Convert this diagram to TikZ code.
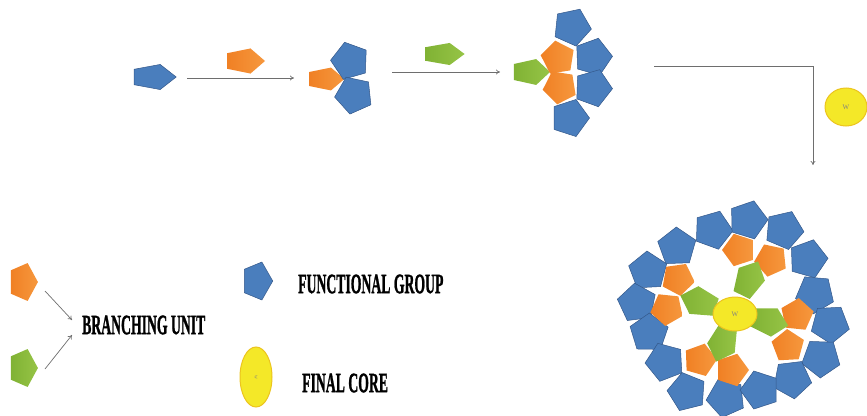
\documentclass[tikz,border=0pt]{standalone}
\usepackage{fontspec}
\usepackage{graphicx}
\setmainfont{Liberation Serif}
\newfontfamily\legendfont[BoldFeatures={FakeBold=1.6}]{Liberation Serif}
\usetikzlibrary{shapes.geometric,arrows.meta}

\definecolor{fgblue}{RGB}{74,126,189}
\definecolor{fgblueedge}{RGB}{52,88,138}
\definecolor{buorange}{RGB}{240,128,36}
\definecolor{buorangelt}{RGB}{246,152,62}
\definecolor{bugreen}{RGB}{128,178,52}
\definecolor{bugreenlt}{RGB}{150,196,70}
\definecolor{coreyellow}{RGB}{244,232,40}
\definecolor{coreedge}{RGB}{236,196,30}
\definecolor{arrowgrey}{RGB}{110,110,110}

\tikzset{
  pent/.style={regular polygon, regular polygon sides=5, inner sep=0pt, minimum size=#1},
  pent/.default=40pt,
  fgroup/.style={fill=fgblue, draw=fgblueedge, line width=0.5pt},
  bunit/.style={left color=buorange, right color=buorangelt, draw=none},
  gunit/.style={left color=bugreen, right color=bugreenlt, draw=none},
  core/.style={ellipse, fill=coreyellow, draw=coreedge, line width=1pt, inner sep=0pt},
  coretext/.style={text=gray, font=\fontsize{7}{7}\selectfont},
  flow/.style={draw=arrowgrey, line width=0.7pt, -{To[length=4pt,width=5pt]}},
  legendtext/.style={font=\legendfont\bfseries\fontsize{28}{28}\selectfont, inner sep=0pt}
}

% #1 name, #2 x, #3 y, #4 pointing angle, #5 style, #6 size
\newcommand\pentat[6]{\node[pent=#6, #5, rotate=#4-90] (#1) at (#2,#3) {};}
% same, stretched along the pointing axis
\newcommand\longpentat[6]{\node[pent=#6, #5, rotate=#4-90, xscale=0.85, yscale=1.15] (#1) at (#2,#3) {};}

\begin{document}
\begin{tikzpicture}[x=1pt, y=-1pt]
\useasboundingbox (0,0) rectangle (867,415);

% ---- reaction scheme, top row ----
\node[pent=40pt, fgroup, xscale=1.16, yscale=0.66, rotate=-90] (fg0) at (153,77) {};
\node[pent=40pt, bunit, xscale=1.05, yscale=0.66, rotate=-90] (bu0) at (244,61) {};
\coordinate (a1s) at (187,78);
\coordinate (a1e) at (294,78);
\draw[flow] (a1s) -- (a1e);

% first generation
\node[pent=40pt, bunit, xscale=0.97, yscale=0.6, rotate=-90] (g1o) at (325,79) {};
\pentat{g1b1}{350}{61}{34}{fgroup}{39pt}
\pentat{g1b2}{354}{95}{-30}{fgroup}{39pt}

\node[pent=40pt, gunit, xscale=1.08, yscale=0.58, rotate=-90] (gu0) at (443,54) {};
\coordinate (a2s) at (392,72);
\coordinate (a2e) at (500,72);
\draw[flow] (a2s) -- (a2e);

% second generation
\node[pent=40pt, gunit, xscale=1.0, yscale=0.68, rotate=-90] (g2g) at (530,72) {};
\pentat{g2o1}{558}{58}{27}{bunit}{35pt}
\pentat{g2o2}{560}{87}{-27}{bunit}{35pt}
\pentat{g2b1}{572}{27}{66}{fgroup}{39pt}
\pentat{g2b2}{593}{57}{2}{fgroup}{39pt}
\pentat{g2b3}{593}{88}{-2}{fgroup}{39pt}
\pentat{g2b4}{570}{118}{-72}{fgroup}{39pt}

% elbow arrow towards the dendrimer
\coordinate (a3s) at (654,66);
\coordinate (a3e) at (813,165);
\draw[flow] (a3s) -| (a3e);
\node[core, minimum width=42pt, minimum height=38pt] (core0) at (846,107) {};
\node[coretext] at (core0) {W};

% ---- dendrimer ----
% outer functional groups
\pentat{b1}{713}{230}{142}{fgroup}{40pt}
\pentat{b2}{748}{220}{73}{fgroup}{40pt}
\pentat{b3}{784}{230}{67}{fgroup}{40pt}
\pentat{b4}{808}{259}{2}{fgroup}{40pt}
\pentat{b5}{677}{247}{92}{fgroup}{40pt}
\pentat{b6}{648}{271}{165}{fgroup}{40pt}
\pentat{b7}{637}{303}{169}{fgroup}{40pt}
\pentat{b8}{649}{333}{233}{fgroup}{40pt}
\pentat{b9}{815}{294}{49}{fgroup}{40pt}
\pentat{b10}{830}{324}{-15}{fgroup}{40pt}
\pentat{b11}{821}{358}{-20}{fgroup}{40pt}
\pentat{b12}{792}{379}{-83}{fgroup}{40pt}
\pentat{b13}{665}{362}{183}{fgroup}{40pt}
\pentat{b14}{687}{392}{248}{fgroup}{40pt}
\pentat{b15}{726}{398}{258}{fgroup}{40pt}
\pentat{b16}{760}{390}{-36}{fgroup}{40pt}
% branching units
\pentat{o1}{739}{250}{108}{bunit}{34pt}
\pentat{o2}{771}{260}{42}{bunit}{34pt}
\pentat{o3}{678}{279}{134}{bunit}{34pt}
\pentat{o4}{667}{309}{192}{bunit}{34pt}
\pentat{o5}{797}{315}{12}{bunit}{34pt}
\pentat{o6}{788}{346}{-51}{bunit}{34pt}
\pentat{o7}{700}{360}{218}{bunit}{34pt}
\pentat{o8}{732}{370}{-72}{bunit}{34pt}
% inner generation
\longpentat{gr1}{749}{280}{64}{gunit}{36pt}
\longpentat{gr2}{700}{302}{162}{gunit}{36pt}
\longpentat{gr3}{768}{321}{-13}{gunit}{36pt}
\longpentat{gr4}{723}{342}{251}{gunit}{36pt}
% core
\node[core, minimum width=44pt, minimum height=34pt] (core1) at (735,314) {};
\node[coretext] at (core1) {W};

% ---- legend ----
\node[pent=42pt, bunit, xscale=0.71, yscale=0.95, rotate=-90] (lo) at (23,282) {};
\node[pent=42pt, gunit, xscale=0.71, yscale=0.95, rotate=-90] (lg) at (23,368) {};
\node[legendtext, anchor=west] (lbu) at (82,325) {\scalebox{0.49}[1]{BRANCHING UNIT}};
\coordinate (l1s) at (45,291);
\coordinate (l1e) at (72,320);
\coordinate (l2s) at (45,369);
\coordinate (l2e) at (72,335);
\draw[flow] (l1s) -- (l1e);
\draw[flow] (l2s) -- (l2e);

\node[pent=42pt, fgroup, xscale=0.75, yscale=0.95, rotate=-90] (lb) at (257,281) {};
\node[legendtext, anchor=west] (lfg) at (298,284) {\scalebox{0.49}[1]{FUNCTIONAL GROUP}};

\node[core, minimum width=32pt, minimum height=60pt] (lcore) at (256,377) {};
\node[coretext, rotate=-90, font=\fontsize{4}{4}\selectfont] at (lcore) {W};
\node[legendtext, anchor=west] (lfc) at (302,383) {\scalebox{0.49}[1]{FINAL CORE}};
\end{tikzpicture}
\end{document}
